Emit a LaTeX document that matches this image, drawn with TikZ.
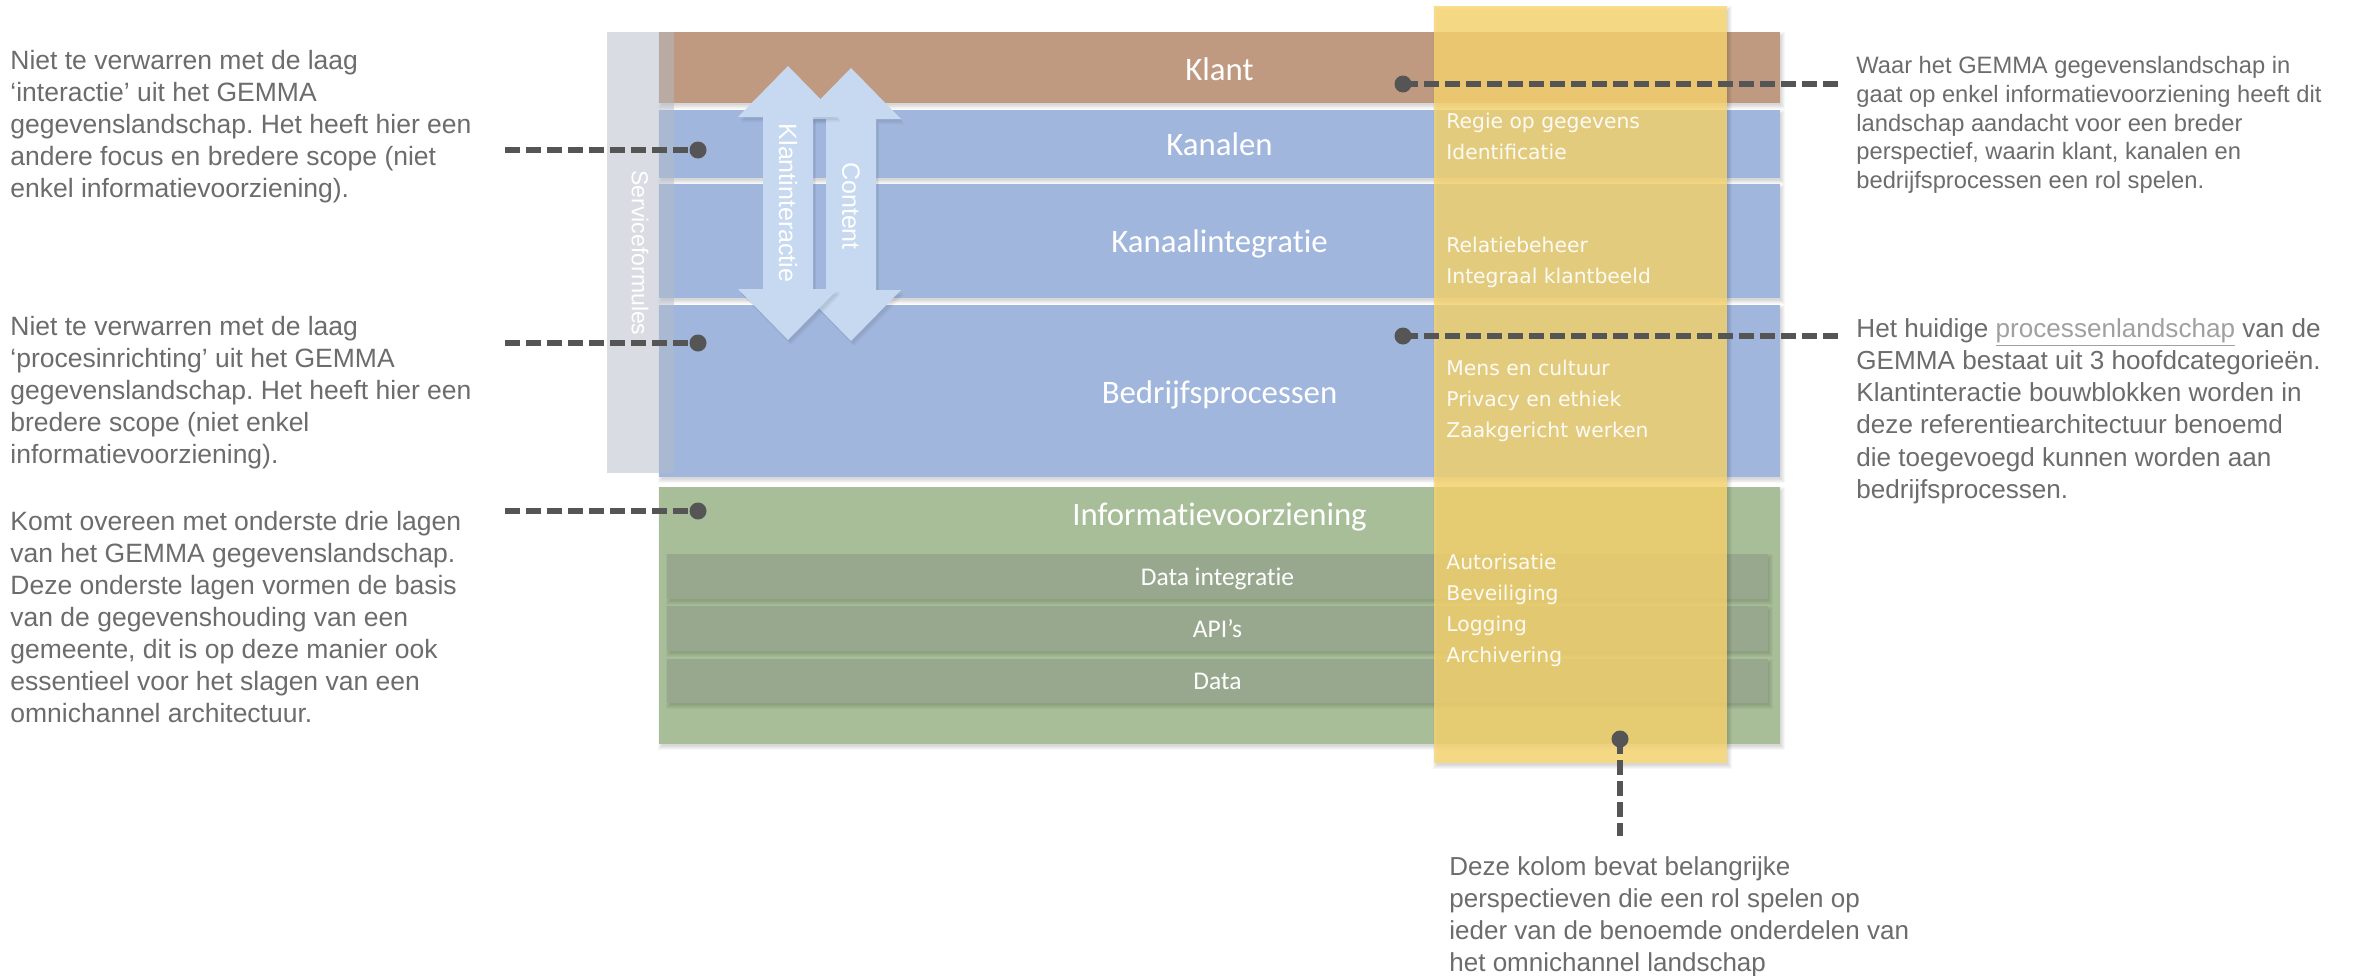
\documentclass[tikz,border=0pt]{standalone}
\usepackage{fontspec}
\setmainfont{Liberation Sans}
\newfontfamily\calibrifont[Ligatures={NoCommon,NoRare,NoDiscretionary}]{Carlito}
\newfontfamily\verdfont{DejaVu Sans}
\frenchspacing

\definecolor{klantbrown}{RGB}{191,154,128}
\definecolor{layerblue}{RGB}{160,182,221}
\definecolor{ivgreen}{RGB}{168,190,152}
\definecolor{subgreen}{RGB}{152,168,142}
\definecolor{colyellow}{RGB}{251,216,112}
\definecolor{stripgrey}{RGB}{180,188,200}
\definecolor{arrowblue}{RGB}{198,217,240}
\definecolor{notegrey}{RGB}{108,108,108}
\definecolor{linkgrey}{RGB}{160,160,160}
\definecolor{dashgrey}{RGB}{85,85,85}

% left-aligned block of lines whose baseline is the first line
\newcommand\txtlines[1]{\vtop{\halign{##\hfil\cr#1\crcr}}}

% soft drop shadow under a box given by its top-left and bottom-right corners
\newcommand\softshadow[4]{%
  \foreach \e in {-1,0,1,2,3}{%
    \fill[black,opacity=0.03] ({#1+2-\e},{#2+3-\e}) rectangle ({#3+2+\e},{#4+3+\e});
  }}

% vertical double-headed block arrow: centre x, top tip, bottom tip, fill options
\newcommand\dblarrow[4]{%
  \fill[#4] (#1,#2) -- ({#1+50},{#2+51}) -- ({#1+25},{#2+51}) -- ({#1+25},{#3-51})
    -- ({#1+50},{#3-51}) -- (#1,#3) -- ({#1-50},{#3-51}) -- ({#1-25},{#3-51})
    -- ({#1-25},{#2+51}) -- ({#1-50},{#2+51}) -- cycle;}

% blurred shadow for a block arrow
\newcommand\arrowshadow[3]{%
  \dblarrow{#1+2}{#2+3}{#3+3}{black,opacity=0.05}
  \dblarrow{#1+3}{#2+5}{#3+5}{black,opacity=0.04}}

\begin{document}
\begin{tikzpicture}[x=0.5pt,y=-0.5pt,
  layerlabel/.style={text=white, anchor=base, inner sep=0,
    font=\calibrifont\fontsize{16.4}{19}\selectfont},
  sublabel/.style={text=white, anchor=base, inner sep=0,
    font=\calibrifont\fontsize{12.75}{15}\selectfont},
  vertlabel/.style={text=white, rotate=-90, inner sep=0},
  colnote/.style={text=white, text opacity=0.92, anchor=base west, inner sep=0,
    font=\verdfont\fontsize{10.15}{15.5}\selectfont},
  note/.style={text=notegrey, anchor=base west, inner sep=0},
  leftnote/.style={note, font=\fontsize{13.25}{16}\selectfont},
  leader/.style={draw=dashgrey, line width=3pt, dash pattern=on 7.5pt off 3pt},
  leaderdot/.style={fill=dashgrey},
]
\useasboundingbox (0,0) rectangle (2359,975);
\fill[white] (0,0) rectangle (2359,975);

% ---- layers ----
\softshadow{659}{32}{1780}{103}
\fill[klantbrown] (659,32) rectangle (1780,103);
\node[layerlabel] (klant) at (1219.5,80) {Klant};

\softshadow{659}{110}{1780}{178}
\fill[layerblue] (659,110) rectangle (1780,178);
\node[layerlabel] (kanalen) at (1219.5,155) {Kanalen};

\softshadow{659}{184}{1780}{298}
\fill[layerblue] (659,184) rectangle (1780,298);
\node[layerlabel] (kanaalintegratie) at (1219.5,252) {Kanaalintegratie};

\softshadow{659}{305}{1780}{477}
\fill[layerblue] (659,305) rectangle (1780,477);
\node[layerlabel] (bedrijfsprocessen) at (1219.5,403) {Bedrijfsprocessen};

\softshadow{659}{487}{1780}{744}
\fill[ivgreen] (659,487) rectangle (1780,744);
\node[layerlabel] (iv) at (1219.5,525) {Informatievoorziening};

\softshadow{667}{554}{1768}{599}
\fill[subgreen] (667,554) rectangle (1768,599);
\node[sublabel] (dataint) at (1217.5,585) {Data integratie};

\softshadow{667}{606}{1768}{651}
\fill[subgreen] (667,606) rectangle (1768,651);
\node[sublabel] (apis) at (1217.5,637) {API’s};

\softshadow{667}{659}{1768}{703}
\fill[subgreen] (667,659) rectangle (1768,703);
\node[sublabel] (data) at (1217.5,689) {Data};

% ---- service strip ----
\fill[stripgrey,opacity=0.5] (607,32) rectangle (674,473);
\node[vertlabel, font=\fontsize{11.5}{14}\selectfont] (service) at (640,253) {Serviceformules};

% ---- interaction arrows (Klantinteractie lies in front) ----
\arrowshadow{851}{68}{341}
\dblarrow{851}{68}{341}{arrowblue}
\node[vertlabel, font=\fontsize{12.5}{15}\selectfont] (content) at (851,206) {Content};
\arrowshadow{788}{66}{340}
\dblarrow{788}{66}{340}{arrowblue}
\node[vertlabel, font=\fontsize{12.5}{15}\selectfont] (klantint) at (788,203) {Klantinteractie};

% ---- perspectives column ----
\softshadow{1434}{6}{1727}{763}
\fill[colyellow,opacity=0.8] (1434,6) rectangle (1727,763);
\node[colnote] (p-kanalen) at (1446,128.5) {\txtlines{Regie op gegevens\cr Identificatie}};
\node[colnote] (p-integratie) at (1446,252) {\txtlines{Relatiebeheer\cr Integraal klantbeeld}};
\node[colnote] (p-processen) at (1446,375) {\txtlines{Mens en cultuur\cr Privacy en ethiek\cr Zaakgericht werken}};
\node[colnote] (p-iv) at (1446,569) {\txtlines{Autorisatie\cr Beveiliging\cr Logging\cr Archivering}};

% ---- annotations ----
\node[leftnote] (note-interactie) at (10,69.5) {\txtlines{%
  Niet te verwarren met de laag\cr
  ‘interactie’ uit het GEMMA\cr
  gegevenslandschap. Het heeft hier een\cr
  andere focus en bredere scope (niet\cr
  enkel informatievoorziening).}};
\node[leftnote] (note-proces) at (10,335.5) {\txtlines{%
  Niet te verwarren met de laag\cr
  ‘procesinrichting’ uit het GEMMA\cr
  gegevenslandschap. Het heeft hier een\cr
  bredere scope (niet enkel\cr
  informatievoorziening).}};
\node[leftnote] (note-iv) at (10,530) {\txtlines{%
  Komt overeen met onderste drie lagen\cr
  van het GEMMA gegevenslandschap.\cr
  Deze onderste lagen vormen de basis\cr
  van de gegevenshouding van een\cr
  gemeente, dit is op deze manier ook\cr
  essentieel voor het slagen van een\cr
  omnichannel architectuur.}};
\node[note, font=\fontsize{11.85}{14.35}\selectfont] (note-klant) at (1856,73.7) {\txtlines{%
  Waar het GEMMA gegevenslandschap in\cr
  gaat op enkel informatievoorziening heeft dit\cr
  landschap aandacht voor een breder\cr
  perspectief, waarin klant, kanalen en\cr
  bedrijfsprocessen een rol spelen.}};
\node[note, font=\fontsize{13.05}{16.15}\selectfont] (note-processen) at (1856,337) {\txtlines{%
  Het huidige \textcolor{linkgrey}{\underline{processenlandschap}} van de\cr
  GEMMA bestaat uit 3 hoofdcategorieën.\cr
  Klantinteractie bouwblokken worden in\cr
  deze referentiearchitectuur benoemd\cr
  die toegevoegd kunnen worden aan\cr
  bedrijfsprocessen.}};
\node[note, font=\fontsize{13}{16}\selectfont] (note-kolom) at (1449,875.5) {\txtlines{%
  Deze kolom bevat belangrijke\cr
  perspectieven die een rol spelen op\cr
  ieder van de benoemde onderdelen van\cr
  het omnichannel landschap}};

% ---- leader lines ----
\coordinate (dot-kanalen) at (698,150);
\coordinate (end-kanalen) at (505,150);
\coordinate (dot-bedrijf) at (698,343);
\coordinate (end-bedrijf) at (505,343);
\coordinate (dot-iv) at (698,511);
\coordinate (end-iv) at (505,511);
\coordinate (dot-klant) at (1403,84);
\coordinate (end-klant) at (1839,84);
\coordinate (dot-processen) at (1403,336);
\coordinate (end-processen) at (1839,336);
\coordinate (dot-kolom) at (1620,739);
\coordinate (end-kolom) at (1620,836);

\draw[leader] (end-kanalen) -- (dot-kanalen);
\draw[leader] (end-bedrijf) -- (dot-bedrijf);
\draw[leader] (end-iv) -- (dot-iv);
\draw[leader] (dot-klant) -- (end-klant);
\draw[leader] (dot-processen) -- (end-processen);
\draw[leader] (dot-kolom) -- (end-kolom);
\foreach \d in {dot-kanalen,dot-bedrijf,dot-iv,dot-klant,dot-processen,dot-kolom}
  \fill[leaderdot] (\d) circle (8.5);
\end{tikzpicture}
\end{document}
